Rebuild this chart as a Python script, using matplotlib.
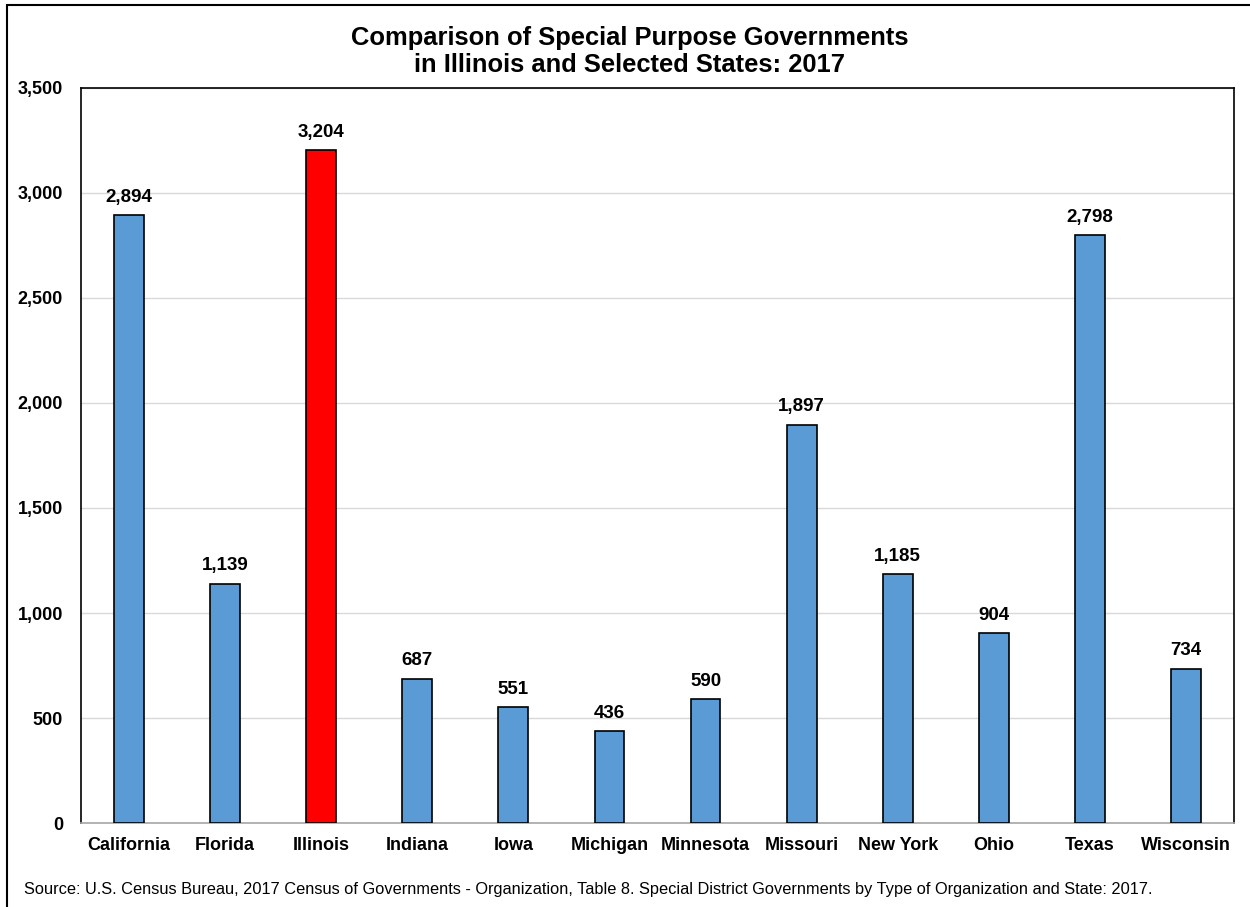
import matplotlib
matplotlib.use("Agg")
import matplotlib.pyplot as plt
from matplotlib.patches import Rectangle
from matplotlib.ticker import FuncFormatter, MultipleLocator

plt.rcParams['font.family'] = ['Liberation Sans', 'DejaVu Sans']

# Special purpose governments by state, 2017
states = ["California", "Florida", "Illinois", "Indiana", "Iowa", "Michigan",
          "Minnesota", "Missouri", "New York", "Ohio", "Texas", "Wisconsin"]
counts = [2894, 1139, 3204, 687, 551, 436, 590, 1897, 1185, 904, 2798, 734]
highlight = "Illinois"

blue = "#5B9BD5"
red = "#FF0000"
colors = [red if s == highlight else blue for s in states]

fig = plt.figure(figsize=(12.5, 9.07), dpi=100)
ax = fig.add_axes([0.0648, 0.0926, 0.9224, 0.8104])

x = list(range(len(states)))
ax.bar(x, counts, width=0.31, color=colors, edgecolor="black", linewidth=1.2, zorder=3)

for xi, v in zip(x, counts):
    ax.text(xi, v + 45, f"{v:,}", ha="center", va="bottom",
            fontsize=13.5, fontweight="bold")

ax.set_xlim(-0.5, len(states) - 0.5)
ax.set_ylim(0, 3500)
ax.yaxis.set_major_locator(MultipleLocator(500))
ax.yaxis.set_major_formatter(FuncFormatter(lambda v, p: f"{int(v):,}"))
ax.set_xticks(x)
ax.set_xticklabels(states)
for lbl in ax.get_xticklabels() + ax.get_yticklabels():
    lbl.set_fontweight("bold")
    lbl.set_fontsize(13)
ax.tick_params(axis="both", length=0)
ax.tick_params(axis="x", pad=10)
ax.tick_params(axis="y", pad=13)
ax.grid(axis="y", color="#D9D9D9", linewidth=1, zorder=0)

for side in ["left", "top", "right"]:
    ax.spines[side].set_color("black")
    ax.spines[side].set_linewidth(1.2)
ax.spines["bottom"].set_color("#A6A6A6")
ax.spines["bottom"].set_linewidth(1.2)

fig.text(0.504, 0.943, "Comparison of Special Purpose Governments\nin Illinois and Selected States: 2017",
         ha="center", va="center", fontsize=18.4, fontweight="bold", linespacing=1.17)

fig.text(0.019, 0.019, "Source: U.S. Census Bureau, 2017 Census of Governments - Organization, "
         "Table 8. Special District Governments by Type of Organization and State: 2017.",
         ha="left", va="center", fontsize=11.8)

# outer chart border (right and bottom fall off the image)
fig.patches.append(Rectangle((0.0056, -0.05), 1.1, 1.0445, transform=fig.transFigure,
                             fill=False, edgecolor="black", linewidth=1.5))

fig.savefig("out.png", dpi=100)
